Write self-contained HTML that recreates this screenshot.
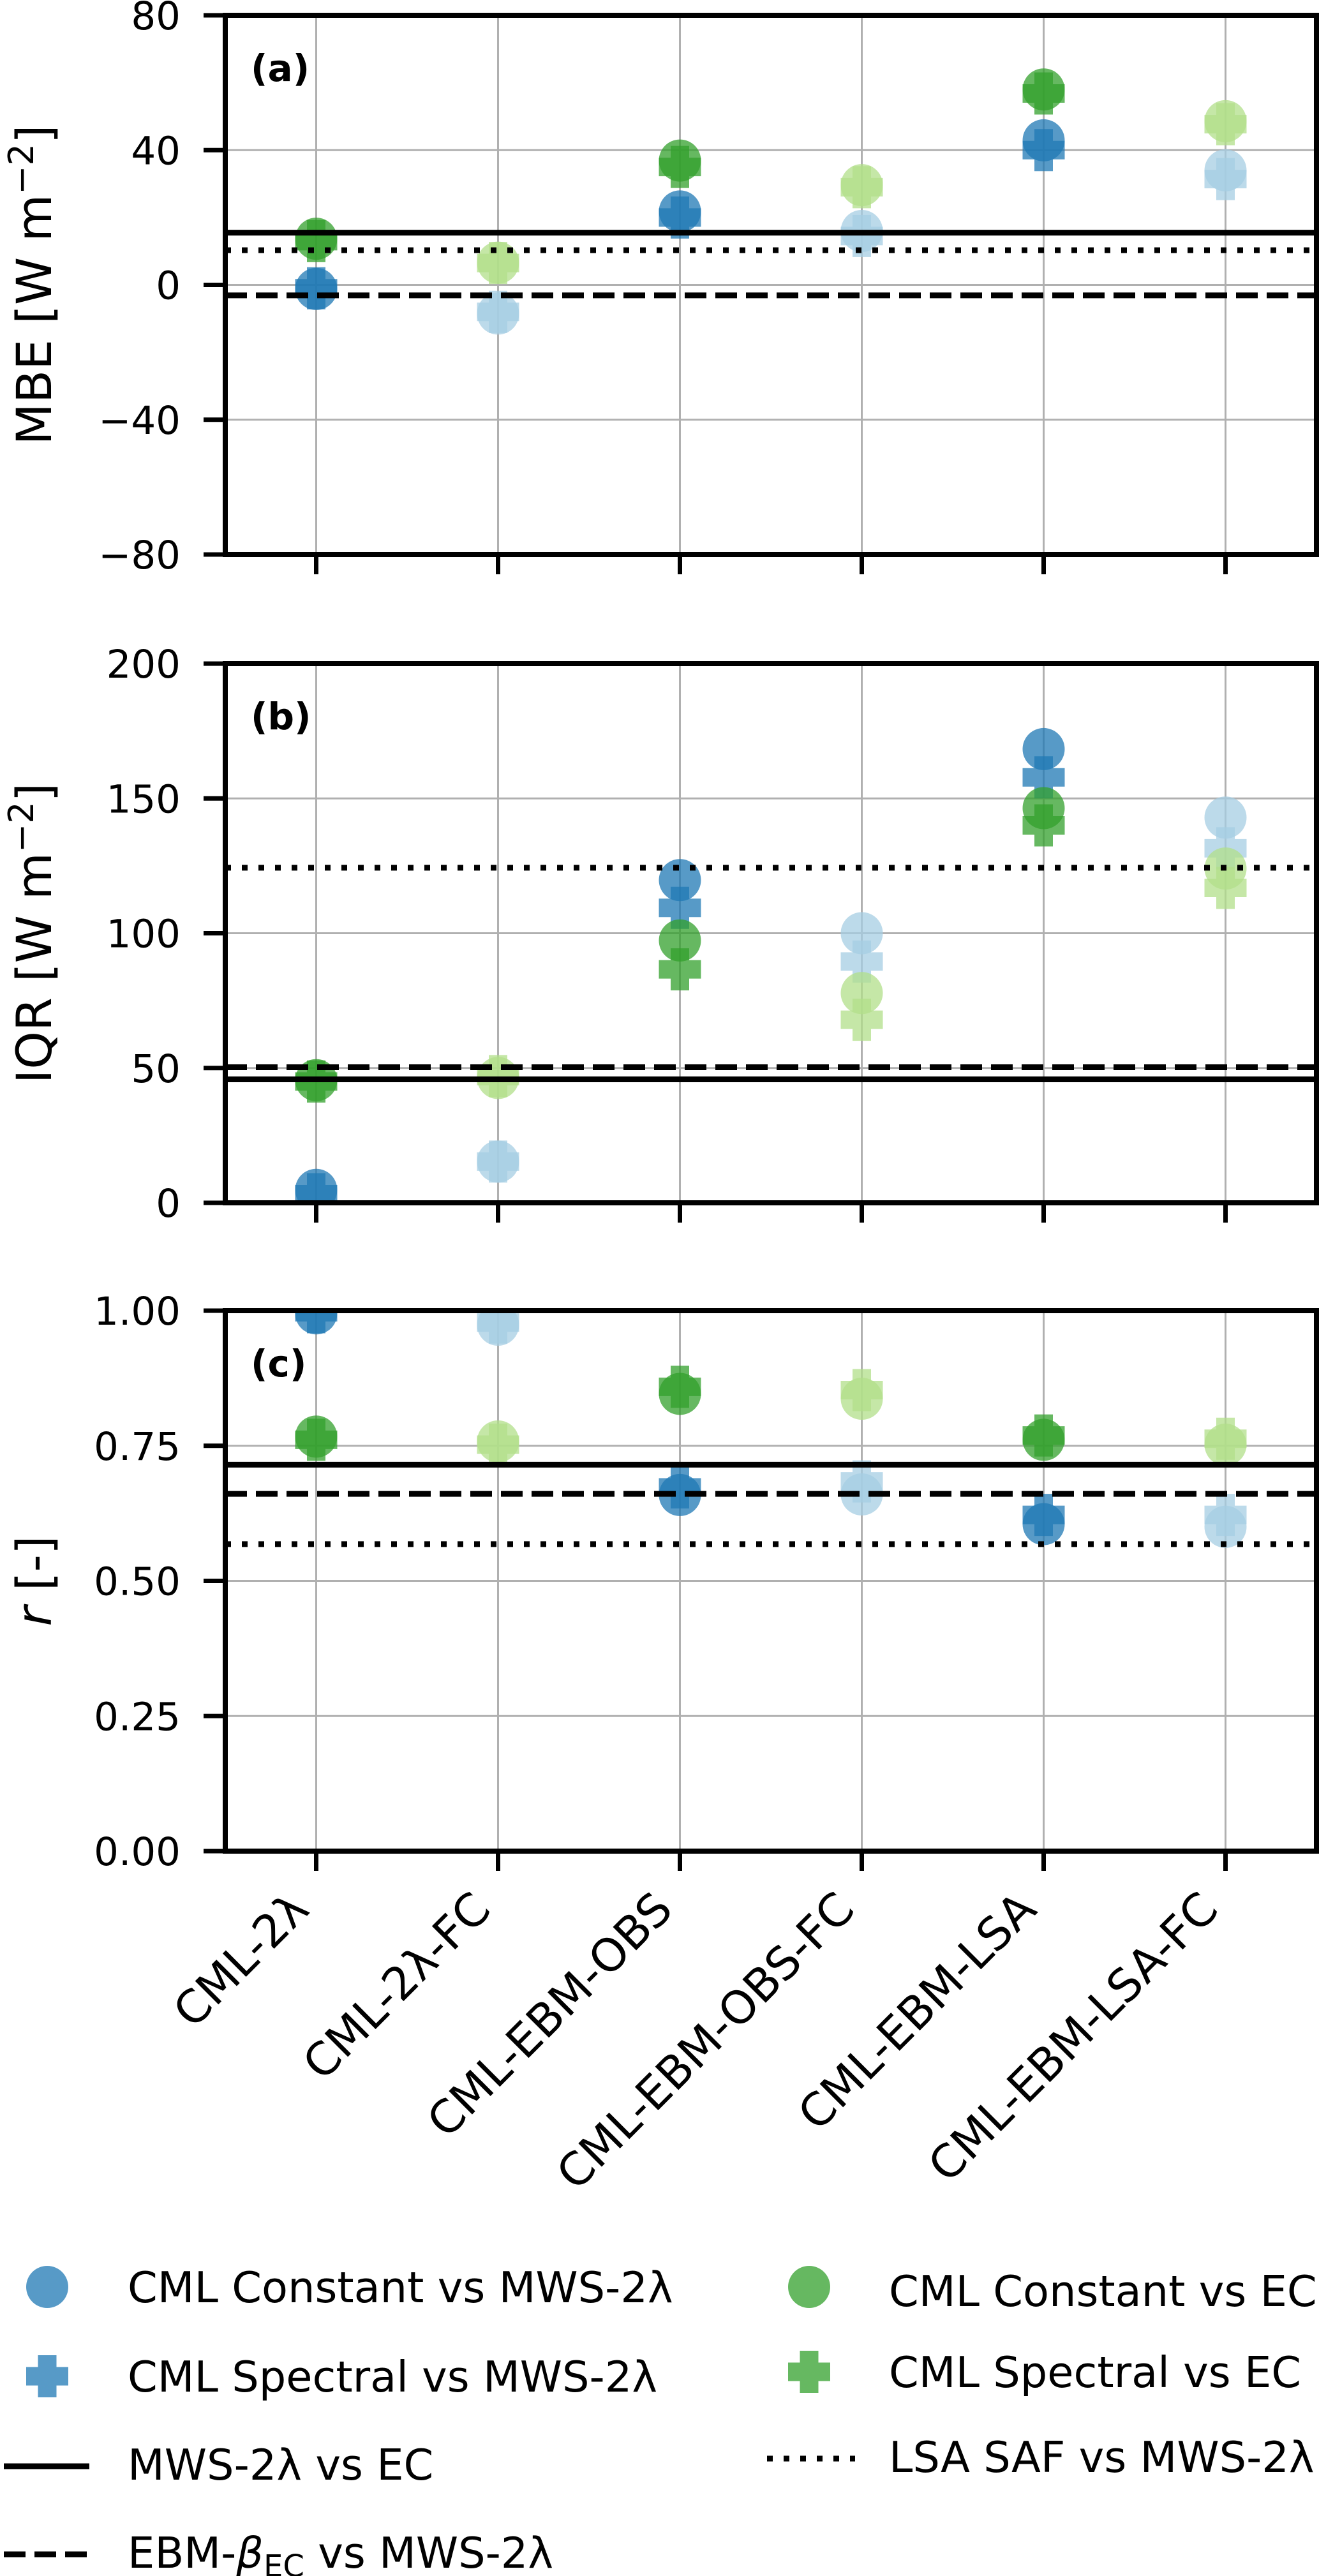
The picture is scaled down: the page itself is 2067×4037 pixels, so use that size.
<!DOCTYPE html>
<html><head><meta charset="utf-8"><style>
html,body{margin:0;padding:0;background:#fff}
svg{display:block}
text{font-family:"DejaVu Sans","Liberation Sans",sans-serif}
</style></head><body>
<svg id="fig" xmlns="http://www.w3.org/2000/svg" width="2067" height="4037" viewBox="0 0 2067 4037">
<rect width="2067" height="4037" fill="#fff"/>
</svg>
<script>
// ---- data ----
const categories = ["CML-2λ","CML-2λ-FC","CML-EBM-OBS","CML-EBM-OBS-FC","CML-EBM-LSA","CML-EBM-LSA-FC"];
// Panel (a) MBE
const mbeConstMws = [-1.2, -8.5, 21.8, 16, 42.9, 34];
const mbeSpecMws  = [-1, -8, 20, 14.5, 40, 31.4];
const mbeConstEc  = [13.7, 6.6, 36.9, 29.6, 58, 48.6];
const mbeSpecEc   = [13, 6.5, 35, 29, 56.8, 47.7];
const mbeRefLines = [15.5, -3.1, 10.3]; // MWS vs EC, EBM-beta vs MWS, LSA SAF vs MWS
// Panel (b) IQR
const iqrConstMws = [4.8, 15.3, 119.7, 100, 168.3, 142.9];
const iqrSpecMws  = [3.2, 15.3, 109.4, 89.5, 157.8, 131.5];
const iqrConstEc  = [45.5, 46.3, 97.3, 77.8, 146.4, 124];
const iqrSpecEc   = [45, 47, 86.6, 67.9, 140, 116.8];
const iqrRefLines = [45.8, 50.3, 124.3];
// Panel (c) r
const rConstMws = [0.995, 0.974, 0.659, 0.66, 0.605, 0.60];
const rSpecMws  = [0.997, 0.978, 0.673, 0.684, 0.622, 0.622];
const rConstEc  = [0.767, 0.758, 0.846, 0.837, 0.761, 0.752];
const rSpecEc   = [0.761, 0.752, 0.859, 0.853, 0.769, 0.763];
const rRefLines = [0.715, 0.661, 0.568];
// ticks
const mbeTicks = [-80,-40,0,40,80];
const mbeTickLabels = ["\u221280","\u221240","0","40","80"];
const iqrTicks = [0,50,100,150,200];
const iqrTickLabels = ["0","50","100","150","200"];
const rTicks = [0,0.25,0.5,0.75,1];
const rTickLabels = ["0.00","0.25","0.50","0.75","1.00"];

// ---- drawing ----
const NS="http://www.w3.org/2000/svg";
const svg=document.getElementById('fig');
function mk(tag,attrs,parent){const e=document.createElementNS(NS,tag);for(const k in attrs)e.setAttribute(k,attrs[k]);(parent||svg).appendChild(e);return e;}
const X0=353,X1=2063;
function xs(i){return X0+(i+0.5)/categories.length*(X1-X0);}
const DARK_B="#1f78b4",LIGHT_B="#a6cee3",DARK_G="#33a02c",LIGHT_G="#b2df8a";
const ALPHA=0.75;

function circle(g,cx,cy,col){const c=mk('circle',{cx:cx,cy:cy,r:33,fill:col,'fill-opacity':ALPHA},g);return c;}
function plus(g,cx,cy,col){const s=33,t=14.5;const d=`M${cx-t},${cy-s}H${cx+t}V${cy-t}H${cx+s}V${cy+t}H${cx+t}V${cy+s}H${cx-t}V${cy+t}H${cx-s}V${cy-t}H${cx-t}Z`;const p=mk('path',{d:d,fill:col,'fill-opacity':ALPHA},g);return p;}

function panel(id,top,bot,ymin,ymax,ticks,tickLabels,ylabel,letter,cMws,sMws,cEc,sEc,refs,order){
  const ys=v=>bot-(v-ymin)/(ymax-ymin)*(bot-top);
  const g=mk('g',{});
  
  
  const cp=mk('clipPath',{id:'clip-'+id},g);
  mk('rect',{x:X0,y:top,width:X1-X0,height:bot-top},cp);
  categories.forEach((c,i)=>{const l=mk('line',{x1:xs(i),x2:xs(i),y1:top,y2:bot,stroke:'#b0b0b0','stroke-width':3},g);});
  ticks.forEach((t,i)=>{const y=ys(t);const l=mk('line',{x1:X0,x2:X1,y1:y,y2:y,stroke:'#b0b0b0','stroke-width':3},g);
    const tk=mk('line',{x1:319,x2:X0,y1:y,y2:y,stroke:'#000','stroke-width':7},g);
    const tx=mk('text',{x:283,y:y+22,'font-size':61,'text-anchor':'end'},g);tx.textContent=tickLabels[i];});
  const mg=mk('g',{'clip-path':`url(#clip-${id})`},g);
  const styles=[{}, {'stroke-dasharray':'34 14'}, {'stroke-dasharray':'9 17'}];
  const names=['line-mws-vs-ec','line-ebm-beta-vs-mws','line-lsa-saf-vs-mws'];
  categories.forEach((c,i)=>{
    const light=i%2===1;
    const cb=light?LIGHT_B:DARK_B, cg=light?LIGHT_G:DARK_G;
    const x=xs(i);
    order.forEach(s=>{
      if(s==='cm')circle(mg,x,ys(cMws[i]),cb);
      if(s==='sm')plus(mg,x,ys(sMws[i]),cb);
      if(s==='ce')circle(mg,x,ys(cEc[i]),cg);
      if(s==='se')plus(mg,x,ys(sEc[i]),cg);
    });
  });
  refs.forEach((v,k)=>{const y=ys(v);const l=mk('line',Object.assign({x1:X0,x2:X1,y1:y,y2:y,stroke:'#000','stroke-width':9},styles[k]),mg);});
  const fr=mk('rect',{x:X0,y:top,width:X1-X0,height:bot-top,fill:'none',stroke:'#000','stroke-width':8},g);
  
  categories.forEach((c,i)=>{const tk=mk('line',{x1:xs(i),x2:xs(i),y1:bot,y2:bot+31,stroke:'#000','stroke-width':7},g);});
  const lt=mk('text',{x:393,y:top+103,'font-size':58,'font-weight':'bold'},g);lt.textContent=letter;
  
  const cy=(top+bot)/2;
  const yl=mk('text',{x:0,y:0,'font-size':76,'text-anchor':'middle',transform:`translate(80,${cy}) rotate(-90)`},g);
  yl.innerHTML=ylabel;
  
  return ys;
}
panel('a',24,869,-80,80,mbeTicks,mbeTickLabels,'MBE [W m<tspan dy="-28" font-size="54">\u22122</tspan><tspan dy="28">]</tspan>','(a)',mbeConstMws,mbeSpecMws,mbeConstEc,mbeSpecEc,mbeRefLines,['cm','sm','ce','se']);
panel('b',1040,1885,0,200,iqrTicks,iqrTickLabels,'IQR [W m<tspan dy="-28" font-size="54">\u22122</tspan><tspan dy="28">]</tspan>','(b)',iqrConstMws,iqrSpecMws,iqrConstEc,iqrSpecEc,iqrRefLines,['cm','sm','ce','se']);
panel('c',2054,2901,0,1,rTicks,rTickLabels,'<tspan font-style="italic">r</tspan> [-]','(c)',rConstMws,rSpecMws,rConstEc,rSpecEc,rRefLines,['cm','sm','ce','se']);

// x tick labels
categories.forEach((c,i)=>{
  const x=xs(i)-8,y=2996;
  const t=mk('text',{x:0,y:0,'font-size':71,'text-anchor':'end',transform:`translate(${x},${y}) rotate(-45)`});
  t.textContent=c;
  
  
});

// legend
const lg=mk('g',{});


function ltext(x,y,html){const t=mk('text',{x:x,y:y+24,'font-size':67},lg);t.innerHTML=html;return t;}
const e1=circle(lg,74,3584,DARK_B); 
ltext(200,3584,'CML Constant vs MWS-2λ');
const e2=plus(lg,74,3724,DARK_B); 
ltext(200,3724,'CML Spectral vs MWS-2λ');
const l1=mk('line',{x1:6,x2:140,y1:3865,y2:3865,stroke:'#000','stroke-width':9},lg);


ltext(200,3862,'MWS-2λ vs EC');
const l2=mk('line',{x1:6,x2:140,y1:4003,y2:4003,stroke:'#000','stroke-width':9,'stroke-dasharray':'34 14'},lg);


ltext(200,4000,'EBM-<tspan font-style="italic">β</tspan><tspan font-size="48" dy="14">EC</tspan><tspan dy="-14"> vs MWS-2λ</tspan>');
const e3=circle(lg,1268,3584,DARK_G); 
ltext(1393,3590,'CML Constant vs EC');
const e4=plus(lg,1268,3717,DARK_G); 
ltext(1393,3717,'CML Spectral vs EC');
const l3=mk('line',{x1:1202,x2:1340,y1:3853,y2:3853,stroke:'#000','stroke-width':9,'stroke-dasharray':'9 17'},lg);


ltext(1393,3850,'LSA SAF vs MWS-2λ');
</script>
</body></html>
